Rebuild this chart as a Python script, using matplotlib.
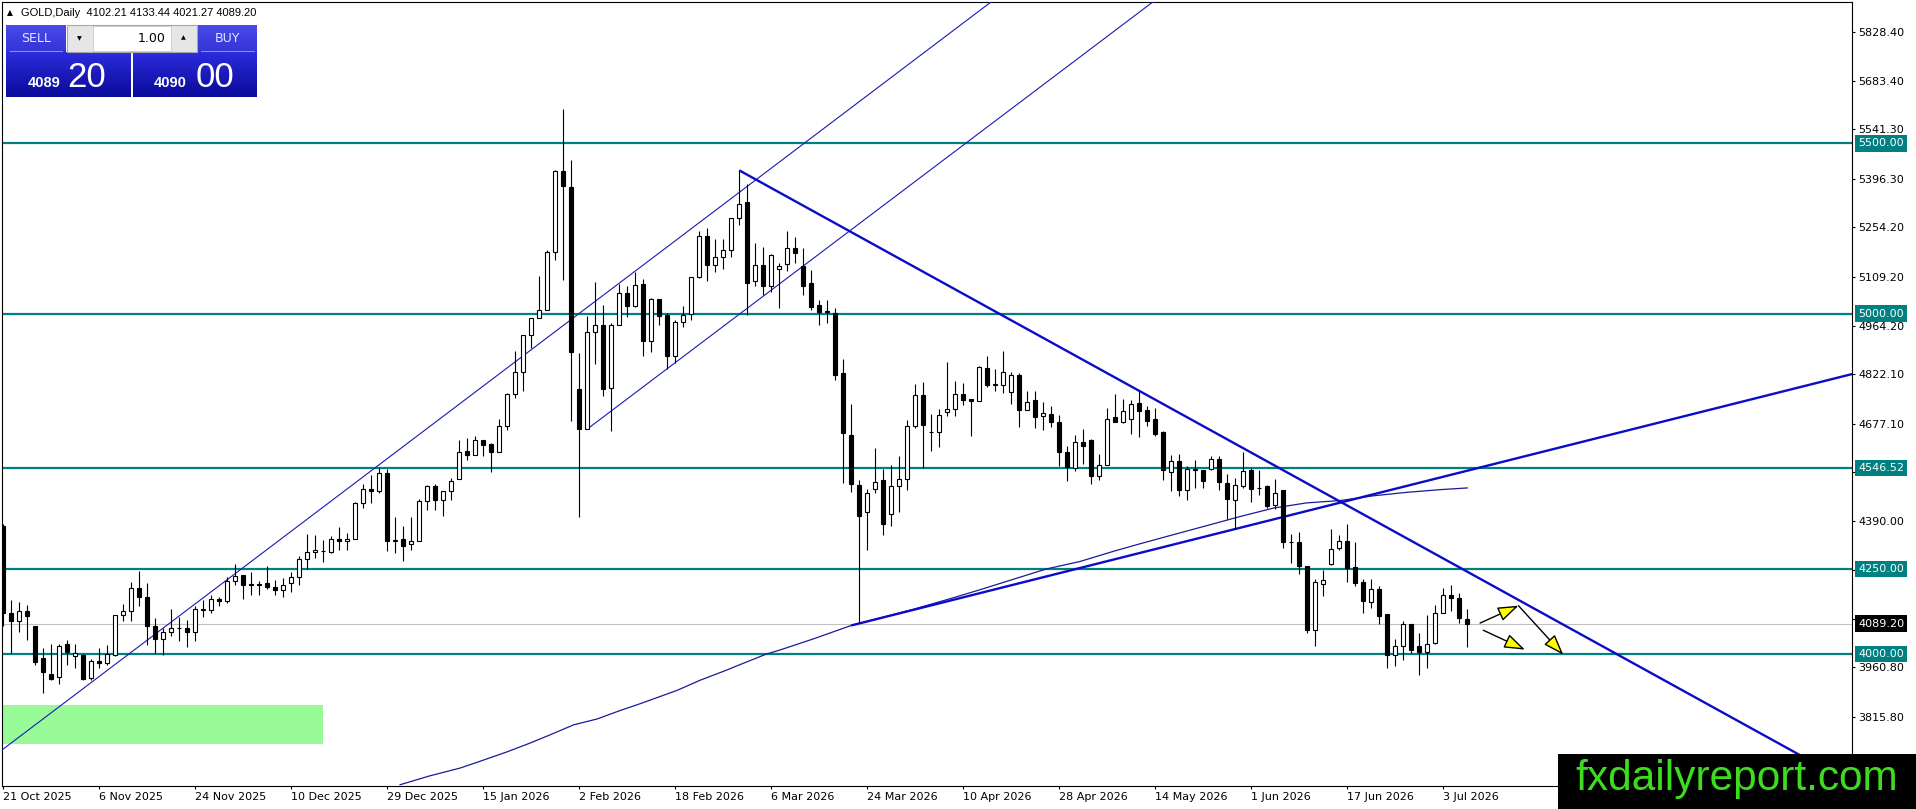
import matplotlib
matplotlib.use("Agg")
import matplotlib.pyplot as plt
import numpy as np
from matplotlib.patches import Rectangle, FancyArrowPatch
from matplotlib.colors import LinearSegmentedColormap
from matplotlib.transforms import blended_transform_factory

# daily GOLD candles (bar 0 = 21 Oct 2025)
opens = [4375, 4122, 4096, 4127, 4081, 3989, 3942, 3934, 4030, 3993,
         3998, 3931, 3980, 3974, 3996, 4115, 4127, 4194, 4169, 4081,
         4044, 4065, 4076, 4076, 4065, 4130, 4130, 4162, 4155, 4216,
         4232, 4205, 4205, 4209, 4197, 4189, 4209, 4226, 4279, 4299,
         4304, 4299, 4338, 4331, 4338, 4444, 4485, 4478, 4532, 4331,
         4338, 4324, 4331, 4449, 4495, 4453, 4478, 4514, 4598, 4586,
         4628, 4618, 4595, 4670, 4765, 4830, 4936, 4987, 5012, 5181,
         5418, 5372, 4779, 4661, 4947, 4968, 4782, 4968, 5061, 5024,
         5087, 4921, 5043, 4997, 4877, 4977, 5000, 5107, 5229, 5144,
         5166, 5188, 5281, 5327, 5095, 5144, 5080, 5131, 5147, 5193,
         5139, 5090, 5026, 5007, 5002, 4825, 4644, 4497, 4417, 4485,
         4510, 4412, 4495, 4514, 4669, 4762, 4652, 4651, 4711, 4720,
         4765, 4749, 4742, 4840, 4791, 4789, 4770, 4821, 4718, 4745,
         4698, 4706, 4683, 4593, 4548, 4623, 4630, 4522, 4554, 4696,
         4681, 4690, 4739, 4718, 4690, 4651, 4535, 4566, 4481, 4544,
         4542, 4544, 4573, 4502, 4453, 4495, 4540, 4488, 4493, 4439,
         4481, 4330, 4329, 4258, 4072, 4207, 4265, 4311, 4331, 4256,
         4211, 4152, 4191, 4119, 3998, 4025, 4088, 4023, 4006, 4032,
         4122, 4174, 4165, 4102.21]
highs = [4381, 4160, 4154, 4144, 4083, 4018, 4030, 4030, 4042, 4030,
         4001, 3985, 4018, 4026, 4115, 4147, 4213, 4245, 4209, 4106,
         4076, 4132, 4109, 4101, 4142, 4160, 4174, 4167, 4226, 4265,
         4232, 4240, 4216, 4260, 4218, 4223, 4240, 4287, 4353, 4351,
         4334, 4346, 4373, 4356, 4447, 4500, 4527, 4547, 4544, 4404,
         4375, 4404, 4455, 4498, 4500, 4478, 4517, 4630, 4635, 4641,
         4630, 4620, 4690, 4767, 4889, 4938, 4987, 5112, 5188, 5423,
         5602, 5452, 4884, 4994, 5093, 5026, 4973, 5087, 5080, 5121,
         5102, 5046, 5043, 5002, 4982, 5023, 5108, 5242, 5252, 5219,
         5219, 5281, 5421, 5382, 5207, 5196, 5176, 5149, 5242, 5225,
         5193, 5129, 5041, 5041, 5017, 4867, 4735, 4512, 4485, 4605,
         4544, 4556, 4583, 4688, 4794, 4799, 4706, 4720, 4858, 4801,
         4796, 4749, 4847, 4875, 4837, 4889, 4828, 4826, 4772, 4772,
         4741, 4730, 4703, 4610, 4644, 4661, 4632, 4588, 4723, 4765,
         4749, 4747, 4772, 4728, 4723, 4654, 4586, 4589, 4551, 4569,
         4542, 4581, 4581, 4530, 4517, 4595, 4546, 4542, 4498, 4514,
         4483, 4354, 4360, 4258, 4220, 4248, 4367, 4351, 4383, 4328,
         4220, 4220, 4199, 4119, 4044, 4096, 4088, 4062, 4116, 4145,
         4194, 4204, 4179, 4133.44]
lows = [4081, 4003, 4064, 4040, 3969, 3885, 3925, 3913, 3969, 3959,
        3925, 3925, 3959, 3969, 3993, 4096, 4096, 4142, 4027, 4003,
        3996, 4052, 4037, 4020, 4037, 4108, 4120, 4140, 4150, 4204,
        4162, 4174, 4174, 4191, 4174, 4167, 4181, 4204, 4251, 4282,
        4269, 4297, 4307, 4307, 4338, 4429, 4444, 4473, 4302, 4297,
        4272, 4307, 4331, 4424, 4422, 4406, 4452, 4514, 4569, 4586,
        4581, 4534, 4595, 4657, 4752, 4772, 4899, 4987, 5012, 5157,
        5098, 4684, 4403, 4661, 4852, 4759, 4654, 4968, 4990, 5021,
        4877, 4887, 4966, 4838, 4855, 4960, 4980, 5105, 5095, 5121,
        5131, 5166, 5261, 4995, 5082, 5054, 5063, 5017, 5124, 5149,
        5054, 5010, 4966, 4974, 4806, 4502, 4475, 4090, 4306, 4473,
        4349, 4375, 4416, 4481, 4665, 4546, 4598, 4608, 4698, 4698,
        4731, 4642, 4742, 4786, 4772, 4767, 4735, 4667, 4716, 4664,
        4659, 4667, 4553, 4507, 4537, 4559, 4500, 4512, 4554, 4683,
        4679, 4647, 4638, 4669, 4641, 4512, 4478, 4463, 4453, 4488,
        4488, 4542, 4481, 4397, 4367, 4488, 4446, 4468, 4429, 4426,
        4311, 4267, 4236, 4062, 4023, 4171, 4262, 4305, 4213, 4199,
        4120, 4135, 4089, 3959, 3964, 3983, 4003, 3939, 3959, 4030,
        4122, 4125, 4091, 4021.27]
closes = [4120, 4096, 4125, 4111, 3978, 3948, 3928, 4024, 4005, 4003,
          3928, 3980, 3975, 4001, 4115, 4127, 4194, 4169, 4081, 4044,
          4065, 4076, 4077, 4065, 4132, 4133, 4162, 4155, 4216, 4230,
          4204, 4204, 4204, 4197, 4187, 4204, 4226, 4279, 4299, 4307,
          4303, 4338, 4331, 4338, 4444, 4485, 4478, 4532, 4331, 4336,
          4316, 4331, 4449, 4495, 4453, 4478, 4507, 4595, 4584, 4628,
          4615, 4595, 4669, 4765, 4830, 4938, 4987, 5012, 5181, 5418,
          5374, 4887, 4661, 4945, 4968, 4779, 4968, 5061, 5024, 5085,
          4921, 5043, 4992, 4877, 4977, 4997, 5108, 5229, 5142, 5166,
          5188, 5281, 5323, 5090, 5144, 5080, 5173, 5141, 5193, 5178,
          5080, 5019, 5005, 5005, 4819, 4649, 4499, 4407, 4473, 4504,
          4382, 4495, 4514, 4669, 4762, 4674, 4651, 4702, 4720, 4765,
          4747, 4742, 4843, 4791, 4792, 4830, 4821, 4718, 4740, 4696,
          4708, 4681, 4595, 4549, 4623, 4612, 4522, 4554, 4690, 4683,
          4715, 4735, 4713, 4686, 4647, 4542, 4566, 4481, 4544, 4540,
          4507, 4573, 4505, 4455, 4498, 4539, 4485, 4487, 4436, 4473,
          4328, 4329, 4258, 4070, 4211, 4217, 4308, 4331, 4253, 4209,
          4155, 4191, 4111, 3998, 4025, 4088, 4013, 4006, 4029, 4120,
          4174, 4165, 4106, 4089.20]

date_labels = ["21 Oct 2025", "6 Nov 2025", "24 Nov 2025", "10 Dec 2025",
               "29 Dec 2025", "15 Jan 2026", "2 Feb 2026", "18 Feb 2026",
               "6 Mar 2026", "24 Mar 2026", "10 Apr 2026", "28 Apr 2026",
               "14 May 2026", "1 Jun 2026", "17 Jun 2026", "3 Jul 2026"]

# moving average, sampled along the curve
ma_bars = [49.6, 53.3, 57.1, 59.6, 62.9, 65.8, 68.7, 71.3, 74.2, 77.1,
           79.6, 84.2, 87.1, 90.0, 92.1, 95.4, 97.1, 101.2, 106.0, 109.6,
           113.7, 118.7, 122.1, 126.3, 130.4, 134.6, 138.8, 142.1, 146.3,
           150.4, 154.6, 158.8, 162.9, 167.1, 171.3, 175.4, 179.6, 183.0]
ma_vals = [3616, 3642, 3665, 3685, 3712, 3738, 3766, 3792, 3809, 3834,
           3854, 3893, 3923, 3949, 3969, 4000, 4012, 4044, 4084, 4106,
           4131, 4165, 4189, 4220, 4250, 4272, 4302, 4324, 4351,
           4377, 4404, 4429, 4444, 4451, 4465, 4475, 4483, 4488]

levels = [5500.00, 5000.00, 4546.52, 4250.00, 4000.00]
price_ticks = [5828.40, 5683.40, 5541.30, 5396.30, 5254.20, 5109.20, 4964.20,
               4822.10, 4677.10, 4533.60, 4390.00, 4247.00, 4103.90, 3960.80,
               3815.80]
bid = 4089.20
ask = 4090.00

# trendline anchors (bar, price)
trend_down = [(92, 5421), (183.3, 4238)]
trend_up = [(106, 4084), (231.1, 4822.6)]
channel_top = [(0, 3721), (71.5, 4992)]
channel_bot = [(73, 4661), (109, 5300)]

zone_bars = (-1, 40)
zone_prices = (3737, 3851)

arrows = [((184.6, 4091), (189.4, 4142)),
          ((189.4, 4142), (195.0, 3998)),
          ((185.0, 4070), (190.2, 4013))]

W, H = 1916, 809
TEAL = "#008080"
XMAX = 231.09

fig = plt.figure(figsize=(W / 100, H / 100), dpi=100)
fig.patch.set_facecolor("white")
ax = fig.add_axes([2 / W, 23 / H, 1850 / W, 784 / H])

x = np.arange(len(opens))
o = np.array(opens)
c = np.array(closes)
up = c >= o

ax.add_patch(Rectangle((zone_bars[0], zone_prices[0]), zone_bars[1] - zone_bars[0],
                       zone_prices[1] - zone_prices[0], fc="#98fb98", ec="none", zorder=1))

for lv in levels:
    ax.axhline(lv, color=TEAL, lw=1.6, zorder=2)
ax.axhline(bid, color="#c0c0c0", lw=0.8, zorder=1.5)

ax.plot(ma_bars, ma_vals, color="#1a1a9a", lw=0.9, zorder=2.6)


def ray(pts, lw, color):
    (x0, y0), (x1, y1) = pts
    k = (y1 - y0) / (x1 - x0)
    ax.plot([x0, XMAX], [y0, y0 + k * (XMAX - x0)], color=color, lw=lw, zorder=2.7,
            solid_capstyle="butt")


ax.axline(channel_top[0], channel_top[1], color="#1a1ab0", lw=0.8, zorder=2.7)
ray(channel_bot, 0.8, "#1a1ab0")
ray(trend_down, 1.7, "#0b0bc8")
ray(trend_up, 1.7, "#0b0bc8")

ax.vlines(x, lows, highs, color="black", lw=0.8, zorder=3)
ax.bar(x, np.abs(c - o), bottom=np.minimum(o, c), width=0.55,
       color=np.where(up, "white", "black"), edgecolor="black", linewidth=0.8, zorder=4)

for (p, q) in arrows:
    ax.add_patch(FancyArrowPatch(p, q, arrowstyle="-|>,head_length=0.85,head_width=0.3",
                                 mutation_scale=15, fc="#ffff00", ec="black", lw=1.0,
                                 shrinkA=0, shrinkB=0, zorder=5))

ax.set_xlim(-0.16, XMAX)
ax.set_ylim(3612.3, 5915.7)
ax.yaxis.tick_right()
ax.set_yticks(price_ticks)
ax.set_yticklabels([f"{v:.2f}" for v in price_ticks])
ax.set_xticks(x[::12])
ax.set_xticklabels(date_labels, ha="left")
ax.tick_params(axis="both", direction="out", length=2.5, width=0.8, labelsize=8, colors="black")
ax.tick_params(axis="y", pad=2)
ax.tick_params(axis="x", pad=1.5)
for s in ax.spines.values():
    s.set_linewidth(0.8)

tr = blended_transform_factory(ax.transAxes, ax.transData)
for lv in levels:
    ax.text(1 + 6 / 1850, lv, f"{lv:.2f}", transform=tr, ha="left", va="center",
            fontsize=8, color="white", clip_on=False, zorder=6,
            bbox=dict(boxstyle="square,pad=0.3", fc=TEAL, ec="none"))
ax.text(1 + 6 / 1850, bid, f"{bid:.2f}", transform=tr, ha="left", va="center",
        fontsize=8, color="white", clip_on=False, zorder=6,
        bbox=dict(boxstyle="square,pad=0.3", fc="black", ec="none"))

# overlay in pixel coordinates: header, trade panel, watermark
ov = fig.add_axes([0, 0, 1, 1], zorder=10)
ov.patch.set_visible(False)
ov.axis("off")

ov.text(7, 13, "\u25b2", fontsize=5.5, va="center", ha="left", color="black")
ov.text(21.5, 13, f"GOLD,Daily  {opens[-1]:.2f} {highs[-1]:.2f} {lows[-1]:.2f} {closes[-1]:.2f}",
        fontsize=8, family="Liberation Sans", va="center", ha="left", color="black")

grad = np.linspace(0, 1, 60).reshape(-1, 1)
panel_cmap = LinearSegmentedColormap.from_list("panel", ["#2c2cdc", "#0a0a9a"])
btn_cmap = LinearSegmentedColormap.from_list("btn", ["#4a4ae6", "#3434d8"])
for ext in [(6, 130.7, 96.7, 51.7), (133.3, 256.7, 96.7, 51.7)]:
    ov.imshow(grad, extent=ext, cmap=panel_cmap, aspect="auto", zorder=1)
for ext in [(6, 65.5, 51.7, 25), (197.3, 256.7, 51.7, 25)]:
    ov.imshow(grad, extent=ext, cmap=btn_cmap, aspect="auto", zorder=1)
ov.plot([10, 62], [51.2, 51.2], color="#8a8af0", lw=0.8, zorder=2)
ov.plot([201, 254], [51.2, 51.2], color="#8a8af0", lw=0.8, zorder=2)

ov.add_patch(Rectangle((66.7, 25), 130, 26.7, fc="#e6e6e6", ec="#a8a8a8", lw=0.8, zorder=2))
ov.add_patch(Rectangle((92.7, 25.5), 78, 25.7, fc="white", ec="#c8c8c8", lw=0.6, zorder=3))
ov.text(79.7, 38.5, "\u25bc", fontsize=4.5, ha="center", va="center", color="black", zorder=4)
ov.text(183.7, 38, "\u25b2", fontsize=4.5, ha="center", va="center", color="black", zorder=4)
ov.text(166, 38.5, "1.00", fontsize=9, ha="right", va="center", color="black", zorder=4)
ov.text(35.7, 38.5, "SELL", fontsize=9, ha="center", va="center", color="#e4e6ff", zorder=4)
ov.text(227, 38.5, "BUY", fontsize=9, ha="center", va="center", color="#e4e6ff", zorder=4)

bid_big, bid_small = f"{bid:.2f}".split(".")
ask_big, ask_small = f"{ask:.2f}".split(".")
ov.text(28, 87, bid_big, fontsize=10.5, weight="bold", family="Liberation Sans",
        ha="left", va="baseline", color="white", zorder=4)
ov.text(67, 87, bid_small, fontsize=25, family="Liberation Sans",
        ha="left", va="baseline", color="white", zorder=4)
ov.text(154, 87, ask_big, fontsize=10.5, weight="bold", family="Liberation Sans",
        ha="left", va="baseline", color="white", zorder=4)
ov.text(196, 87, ask_small, fontsize=25, family="Liberation Sans",
        ha="left", va="baseline", color="white", zorder=4)

ov.add_patch(Rectangle((1558, 754), 358, 55, fc="black", ec="none", zorder=5))
ov.text(1737, 790, "fxdailyreport.com", fontsize=30.5, family="Liberation Sans",
        ha="center", va="baseline", color="#3ddc1e", zorder=6)

ov.set_xlim(0, W)
ov.set_ylim(H, 0)

fig.savefig("out.png", dpi=100, facecolor="white")
